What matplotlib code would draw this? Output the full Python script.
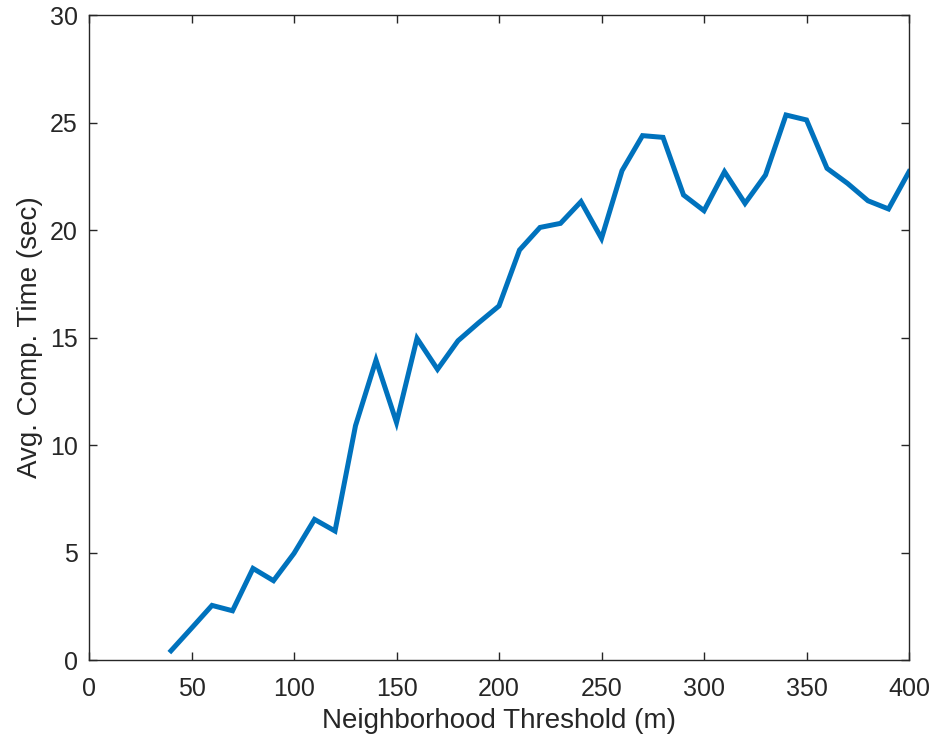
import matplotlib
matplotlib.use("Agg")
import matplotlib.pyplot as plt
import numpy as np

plt.rcParams["font.family"] = ["Liberation Sans", "DejaVu Sans"]
plt.rcParams["font.size"] = 18

threshold = np.arange(40, 401, 10)
comp_time = [0.43, 1.48, 2.54, 2.29, 4.26, 3.69, 4.96, 6.54, 6.0, 10.9,
             13.95, 11.05, 14.96, 13.52, 14.85, 15.68, 16.47, 19.07, 20.12, 20.31,
             21.32, 19.61, 22.76, 24.39, 24.31, 21.63, 20.90, 22.71, 21.24, 22.56,
             25.35, 25.12, 22.87, 22.17, 21.36, 20.98, 22.71]

fig = plt.figure(figsize=(9.35, 7.44), dpi=100)
ax = fig.add_axes([0.0952, 0.1129, 0.877, 0.8669])
ax.plot(threshold, comp_time, color="#0072BD", linewidth=3.6, solid_joinstyle="miter")
ax.set_xlim(0, 400)
ax.set_ylim(0, 30)
ax.set_xticks(np.arange(0, 401, 50))
ax.set_yticks(np.arange(0, 31, 5))
ax.set_xlabel("Neighborhood Threshold (m)", color="#262626", fontsize=20, labelpad=5)
ax.set_ylabel("Avg. Comp. Time (sec)", color="#262626", fontsize=20, labelpad=5)
ax.tick_params(direction="in", top=True, right=True, length=6, width=1,
               colors="#262626", labelsize=18)
ax.tick_params(axis="x", pad=12)
ax.tick_params(axis="y", pad=8)
for s in ax.spines.values():
    s.set_color("#262626")
    s.set_linewidth(1)
fig.savefig("out.png", dpi=100)
